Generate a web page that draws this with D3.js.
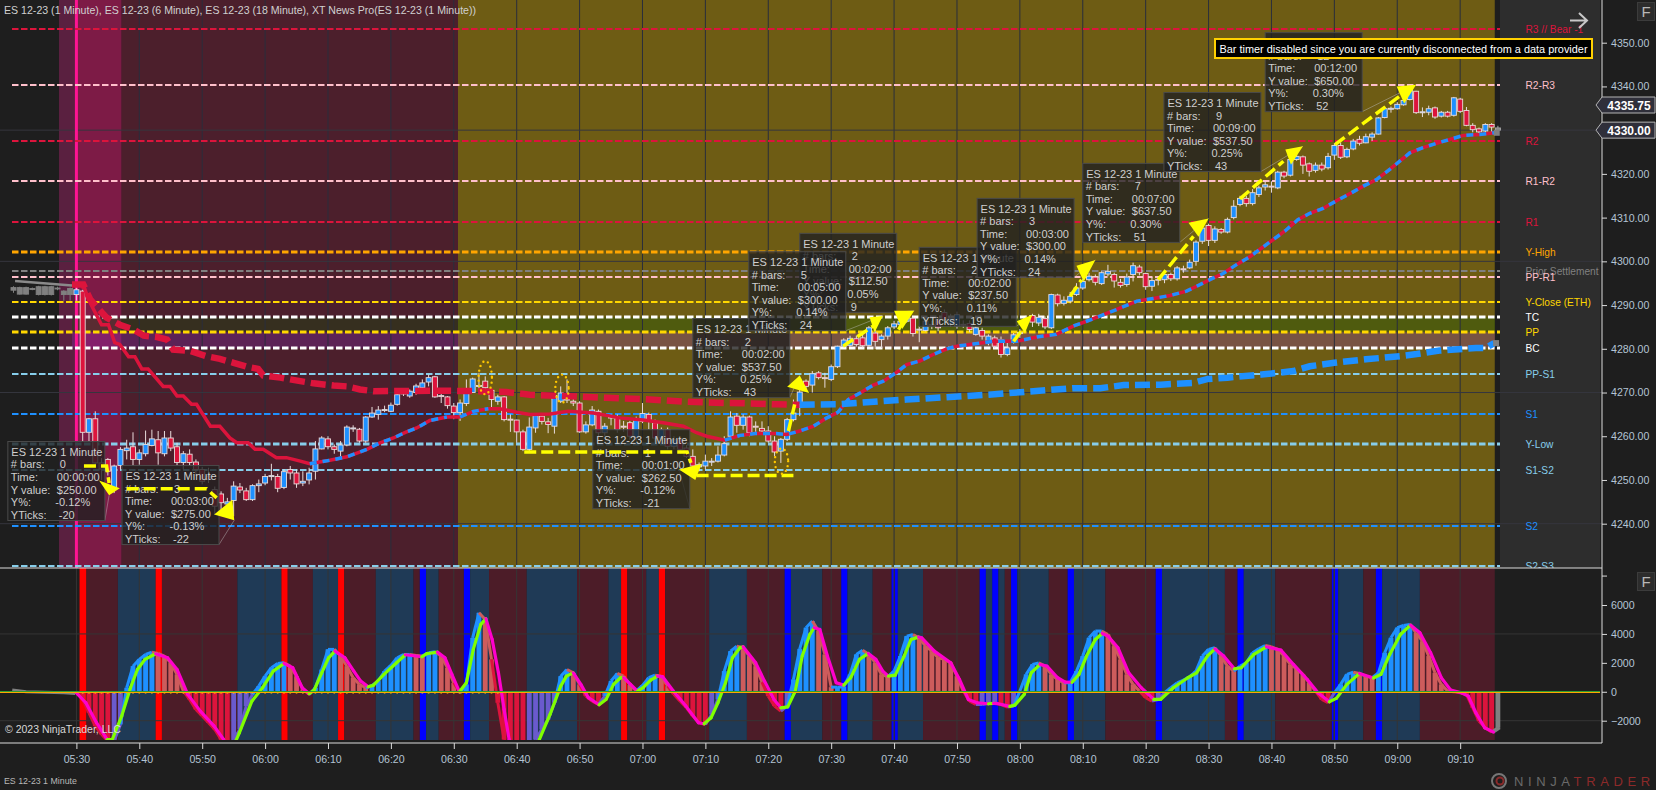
<!DOCTYPE html>
<html>
<head>
<meta charset="utf-8">
<script src="https://cdn.jsdelivr.net/npm/d3@7"></script>
<style>
  html, body { margin: 0; padding: 0; background: #1e1e1e; overflow: hidden; }
  svg { display: block; font-family: "Liberation Sans", Arial, sans-serif; }
</style>
</head>
<body>
<div id="chart"></div>
<script>
// ---- data ----

// minutes after 05:30 for the time axis
var timeTicks = [0,10,20,30,40,50,60,70,80,90,100,110,120,130,140,150,160,170,180,190,200,210,220];
var timeLabels = ["05:30","05:40","05:50","06:00","06:10","06:20","06:30","06:40","06:50","07:00","07:10","07:20","07:30","07:40","07:50","08:00","08:10","08:20","08:30","08:40","08:50","09:00","09:10"];
var priceTicks = [4240,4250,4260,4270,4280,4290,4300,4310,4320,4330,4340,4350];
var priceGrid = [4240,4270,4300,4330];
var oscTicks = [-2000,0,2000,4000,6000];
var oscGrid = [-2000,4000];

// level name, price, colour, thick?
var levelNames = ["R3 // Bear -1","R2-R3","R2","R1-R2","R1","Y-High","Prior Settlement","PP-R1","Y-Close (ETH)","TC","PP","BC","PP-S1","S1","Y-Low","S1-S2","S2","S2-S3"];
var levelPrices = [4353.13,4340.33,4327.6,4318.44,4309,4302.07,4297.86,4296.5,4290.7,4287.2,4283.8,4280.1,4274.25,4265.1,4258.2,4252.25,4239.5,4230.3];
var levelColors = ["#dc143c","#ffc0cb","#dc143c","#ffc0cb","#dc143c","#ffa500","#808080","#ffc0cb","#ffd700","#ffffff","#ffd700","#ffffff","#87ceeb","#1e90ff","#87ceeb","#87ceeb","#1e90ff","#87ceeb"];
var levelThick = [0,0,0,0,0,1,0,0,0,1,1,1,0,0,1,0,0,0];

// gray bars before the session, minutes -10..-1: open, high, low, close
var preRows = [[4293.4,4294.3,4292.8,4294],[4292.5,4294.2,4292.4,4294],[4292.5,4294.2,4292.4,4294],[4293.7,4294,4293.4,4293.8],[4292.4,4294.4,4292.2,4294.2],[4292.4,4294.4,4292.2,4294.2],[4292.4,4294.4,4292.2,4294.2],[4293.8,4294.2,4293.4,4293.9],[4292.4,4293.4,4291,4293.2],[4292.4,4294,4291,4293.8]];

// one minute bars from 05:30: open, high, low, close
var candleRows = [
[4292.4,4294,4291,4293.5],[4293.2,4293.5,4258.9,4260.9],[4260.9,4264.2,4258.9,4264],[4264,4265.7,4253,4253.9],[4253.9,4255,4250,4252.5],[4254.7,4255,4251,4252],[4247.8,4253.5,4247,4253.2],[4253.3,4257.5,4252.4,4257],[4256.7,4259.2,4254.7,4257.3],[4257.6,4260.9,4253.2,4254.7],
[4254.7,4257,4253.5,4256.2],[4256,4261.3,4255.4,4258.1],[4257.9,4261.5,4257.7,4259.4],[4259.2,4261.2,4253.5,4256.2],[4256,4261.2,4255.4,4259.6],[4259.6,4261.2,4256.6,4257.3],[4257.6,4258.5,4253.2,4254],[4254,4256.6,4252.4,4256],[4255.9,4257,4253.2,4254],[4254.1,4254.7,4250.9,4252.4],
[4252.4,4253,4249,4249.7],[4250.9,4252.8,4249.3,4250.1],[4247.8,4248.5,4242,4244],[4246.8,4247.4,4242.5,4244.8],[4244.5,4245.9,4242.5,4245],[4245.3,4249.7,4241.7,4248.6],[4248.4,4249.3,4247,4247.7],[4247.5,4248.2,4245.2,4245.5],[4245.5,4249,4245.2,4248.7],[4248.7,4250.1,4247.2,4249.1],
[4249.3,4251.4,4248.8,4250.8],[4250.9,4253.7,4249.9,4251],[4250.8,4251.4,4247.2,4248.1],[4248.3,4252.5,4247.9,4251.9],[4252.4,4253.2,4250.1,4251.6],[4251.6,4252.4,4248.2,4249.1],[4249.3,4252,4248.6,4249.7],[4250,4252.8,4249,4251.6],[4252,4258.9,4250.1,4257.1],[4257.1,4260,4257,4259.6],
[4259.4,4260,4257,4257.6],[4257.6,4258.1,4256,4257],[4256.6,4258.9,4254.7,4258],[4258,4262.5,4257.7,4262.1],[4261.8,4262.5,4261,4261.9],[4261.6,4261.9,4258.5,4258.9],[4258.9,4264.6,4258.5,4264.4],[4264.4,4266.7,4264.2,4265.3],[4265,4266.9,4263.8,4266],[4266,4267,4265.5,4266.1],
[4265.7,4267.7,4265.5,4267.1],[4267.3,4269.8,4267,4269.5],[4269.7,4270.7,4269.2,4269.9],[4269.2,4270.7,4268.8,4270.3],[4270,4272,4269.5,4271.5],[4271.1,4273,4270.3,4272.2],[4272.4,4274.1,4271.4,4273.4],[4273.6,4273.8,4268.8,4269],[4269.3,4270.3,4267.6,4269.2],[4269,4269.2,4266.3,4267],
[4266.9,4267.6,4263.9,4265.4],[4265.4,4268.4,4263.5,4267.6],[4267.5,4273,4266.9,4270],[4270,4273.4,4269.9,4273.1],[4271.5,4274.5,4270.7,4271.6],[4272.6,4273.7,4270.7,4271.1],[4270.5,4270.7,4266.5,4268.4],[4268,4269.5,4267.2,4269],[4269,4269.2,4263.4,4263.8],[4263.9,4265,4261,4263.8],
[4263.7,4263.8,4258.5,4261],[4261,4261.5,4256.6,4257],[4257,4264.3,4256.6,4262.1],[4261.9,4265.3,4260.8,4264.7],[4264.6,4265,4262.7,4263.4],[4263.3,4264.2,4260.7,4262.7],[4262.3,4269.9,4260.6,4269.3],[4268,4271.4,4267.6,4269.9],[4268.4,4273,4267.6,4268.5],[4268,4269.2,4266.9,4267.6],
[4267.6,4268,4260.8,4261],[4261,4263.4,4260.6,4262.6],[4262.6,4266.9,4262.3,4266],[4265.7,4266.1,4260,4260.8],[4260.8,4263,4260,4262.3],[4264.4,4265,4262.5,4264.2],[4264.2,4265,4260.8,4261.5],[4262.3,4263.5,4261,4262.2],[4263.1,4263.5,4259.2,4260],[4259.6,4264.5,4259,4263.8],
[4263.4,4267.6,4263,4265.2],[4265,4265.4,4261.5,4263.4],[4263.1,4263.8,4258.6,4259.6],[4259.6,4262,4259,4261.5],[4261.5,4262,4257,4257.7],[4257.7,4260,4257,4259.2],[4259.2,4259.5,4256,4257],[4257.3,4258,4255,4255.4],[4255.4,4257,4252.4,4253.2],[4253,4254,4252,4253.5],
[4253.2,4255.8,4252.4,4254.3],[4254.3,4255,4253.2,4254.3],[4254.3,4257.7,4254,4255.7],[4255.7,4260,4255.4,4258.3],[4260,4265.7,4259.2,4264.4],[4264.6,4265.3,4260.8,4262.5],[4262.5,4265,4261.5,4264.4],[4264.4,4264.7,4260,4260.8],[4262.3,4263.4,4260.8,4262.2],[4261.8,4263.4,4260.8,4261.2],
[4261.2,4262.3,4258.5,4258.9],[4258.9,4260,4255.4,4256.4],[4256.6,4259.6,4253.9,4259.3],[4259.3,4264.2,4258.9,4263.8],[4263.8,4268.4,4263.4,4265.3],[4267.3,4270.7,4264.6,4270.1],[4272.6,4273,4270.5,4271.4],[4271.7,4274.9,4270,4274.3],[4274.5,4274.9,4273,4273.4],[4273.4,4274.5,4271.1,4273.3],
[4273,4276.4,4272.6,4275.9],[4275.9,4280.7,4275.6,4280.6],[4280.6,4282.4,4280.3,4282],[4280.8,4283,4280.5,4282.4],[4282.3,4283,4280.5,4281],[4282.5,4283.6,4280.3,4280.7],[4280.8,4285.2,4280.5,4284.8],[4283.6,4284.5,4279.9,4281.7],[4282.1,4283.3,4280.2,4282.9],[4282.9,4285.2,4282.1,4284.8],
[4285,4286.4,4284.5,4285.7],[4285.5,4286.8,4285.1,4286.3],[4286.3,4287.6,4286,4287],[4287,4287.4,4282.8,4283.5],[4284.4,4285.2,4281.5,4284.5],[4284.2,4287,4284,4286.3],[4285.6,4286.4,4284.5,4285.5],[4286.7,4287.2,4284,4284.8],[4288.3,4289,4286,4286.7],[4285.6,4288,4285,4287],
[4285.2,4288.5,4284.6,4287.8],[4285.6,4286.5,4284.8,4285.5],[4285.8,4286.5,4283.8,4284.4],[4283.3,4285.2,4283,4284.8],[4284.2,4284.8,4282.1,4282.9],[4281.7,4283.3,4280.8,4282.9],[4282.5,4283,4280.1,4280.6],[4282.1,4282.8,4278,4278.7],[4278.7,4282,4278.3,4280.2],[4281.7,4283.6,4281.2,4283.2],
[4283.6,4284.5,4282.5,4283.7],[4286.5,4287.6,4285,4287],[4287.6,4288,4285,4286.1],[4285.9,4288,4285.2,4287.2],[4286.9,4287.4,4284.5,4285],[4284.8,4292.6,4284.5,4292.4],[4292.3,4292.6,4289.7,4290.3],[4290.4,4292,4289.9,4291.1],[4290.9,4293,4290.4,4292],[4292.4,4295,4292.1,4293.9],
[4293.9,4296,4293.5,4295.4],[4295.8,4297.4,4295.4,4296.6],[4296.4,4297,4294.5,4295.2],[4294.9,4297.7,4294.6,4297.4],[4297.1,4299.2,4296.6,4297.7],[4297,4297.4,4294,4295.5],[4295.2,4296,4294,4294.5],[4294.7,4297.2,4294.2,4296.4],[4297,4299.7,4295.4,4299],[4298.7,4299.2,4296.8,4297.4],
[4297.2,4297.4,4293.5,4294.2],[4294.3,4296.4,4293.2,4295.6],[4295.9,4296.6,4294.5,4295.8],[4295.8,4297.6,4295,4297],[4297,4297.4,4295.5,4296],[4296,4298.9,4295.6,4298.5],[4298.3,4299,4297.4,4298.2],[4298.5,4300.4,4298.3,4299.8],[4300,4304.8,4299,4304.4],[4304.6,4308,4304,4307.6],
[4308.2,4308.6,4303.5,4304.8],[4304.8,4308,4304.2,4307.4],[4307.3,4307.6,4306.3,4306.7],[4306.7,4310,4306.4,4309.6],[4310,4314,4309.6,4312.6],[4313,4315,4312.6,4314.4],[4314.4,4315,4312.5,4313.2],[4313.2,4316.5,4312.8,4315.7],[4315.3,4317.3,4314.7,4316.8],[4317,4318.3,4316.2,4317.5],
[4317.2,4318.3,4315.7,4317.1],[4316.8,4320.7,4316.5,4320.4],[4320.4,4320.7,4319,4319.5],[4319.7,4323.6,4319.4,4323.3],[4323.3,4324.6,4323,4324],[4323.9,4324.2,4320,4322],[4322.3,4322.6,4319.4,4320.6],[4320.8,4322.6,4320.3,4322],[4322,4322.6,4320.6,4321.1],[4321.4,4324.8,4321,4324],
[4324.3,4327,4323.2,4326.5],[4326.5,4327.2,4323.4,4323.8],[4323.9,4326,4323.6,4325.6],[4325.7,4328,4325.4,4327.5],[4327.9,4328.7,4326.5,4327],[4327.1,4329.2,4327,4328.5],[4328.4,4329.5,4327.5,4329.1],[4329.1,4333,4329,4332.8],[4332.9,4335.4,4332.7,4334.9],[4334.9,4335.4,4334,4335],
[4334.9,4336.4,4334.7,4335.9],[4335.8,4337.4,4335.6,4336.8],[4337,4339.7,4336.8,4339.3],[4338.9,4339,4333.7,4334],[4334.1,4335.2,4333,4334.2],[4334.1,4335.6,4333.4,4334.9],[4335.1,4335.4,4332.6,4333],[4333.2,4334.4,4332.9,4334.1],[4334.1,4334.4,4332.9,4333.2],[4333.4,4337.6,4333.1,4337.4],
[4337.1,4337.4,4333.9,4334.3],[4334.5,4335.3,4330.9,4331.1],[4331.1,4331.6,4329.5,4330.1],[4330.3,4330.6,4329.2,4329.6],[4329.8,4331.6,4329.5,4331.3],[4331.3,4331.6,4329.5,4330.7],[4330.5,4331,4329.4,4330]
];

// thin moving average: minute, price
var thinLine = [[-0.7,4294.7],[1.1,4294.7],[1.9,4291.3],[4,4285.5],[5.1,4285.5],[6.1,4281.4],[6.9,4281],[8.3,4278.2],[9.3,4278.2],[10.4,4275.4],[11.4,4275.4],[13.8,4271.4],[14.9,4271.4],[16,4269.2],[17,4269.2],[18.3,4267.3],[19.1,4267.3],[21.3,4262.3],[22.8,4262.3],[24.4,4259.6],[25.5,4258.5],[27.3,4258.5],[28.4,4257],[29.7,4257],[31.8,4255.1],[33.4,4255.1],[35.6,4254.3],[37.1,4253.7],[40.3,4254.5],[43,4255.3],[46.2,4257],[48.3,4258.5],[50.4,4259.6],[52.3,4260.9],[54.1,4261.9],[56.2,4263.6],[58.9,4264.4],[61,4264.4],[63.1,4265.7],[65.5,4266.3],[67.3,4266.3],[70,4265.5],[72.1,4265],[75.3,4265.1],[78.2,4265.7],[82.2,4265.3],[86.4,4264.2],[90.1,4263.7],[93.3,4263.1],[96.5,4262.3],[98.6,4260.8],[100.2,4260],[103.1,4259.1],[105.5,4260.2],[107.9,4260.6],[111.3,4260.6],[112.9,4260.4],[115,4261.2],[117.2,4262.3],[119.3,4264.2],[121.1,4265.5],[122.7,4268.4],[124.6,4269.9],[126.7,4271.7],[128.3,4272.6],[130.4,4274.6],[132,4276.4],[134.1,4277.2],[136.2,4278.7],[138.4,4280],[140,4280.6],[142.6,4281.1],[145.8,4281.7],[149.5,4281.7],[152.7,4282.7],[155.8,4283.3],[158.5,4285.2],[160.6,4286.3],[163.3,4287.8],[165.4,4289],[168.6,4290.9],[171.2,4291.5],[173.9,4292.2],[176.5,4293.2],[178.1,4294.3],[180.2,4295.8],[182.3,4297.2],[184.5,4299.3],[186.6,4301.1],[188.5,4303.1],[190.3,4305],[192.2,4307],[194.2,4309.5],[196.1,4311],[198.2,4312.1],[200.4,4313.9],[202.5,4315.5],[204.6,4317.2],[206.7,4318.7],[208.6,4320.8],[210.4,4322.9],[212,4324.8],[214.1,4326],[216.5,4327.1],[218.4,4327.9],[220.5,4328.8],[223.1,4329],[225.5,4329.4]];
var thinBlueSpans = [[37,60],[61,66],[76,78.5],[103,225.5]];

// thick dashed moving average: minute, price
var thickLine = [[-0.7,4294.7],[1.1,4294.7],[2.2,4291.3],[4.8,4287.1],[6.9,4285.5],[9.1,4284.4],[10.7,4283],[12.8,4282.7],[14.4,4282.1],[15.4,4279.8],[18.1,4279.5],[20.7,4278.3],[22.8,4277.7],[25,4276.8],[27.1,4275.9],[28.9,4275.4],[29.7,4273.9],[32.4,4273.4],[35.6,4272.6],[37.7,4272.1],[40.9,4271.6],[43,4271.4],[45.1,4270.7],[47.2,4270.3],[58.9,4270.4],[64.2,4270.3],[68.4,4270.1],[72.1,4269.5],[77.4,4269.2],[84.3,4268.8],[91.2,4268.4],[96.5,4267.9],[102.9,4267.6],[107.1,4267.5],[111.3,4267.3],[115,4267.2],[121,4267.3],[127.9,4268],[132,4268.4],[145,4269.5],[158.5,4271],[162.8,4271],[166.5,4271.7],[172.4,4271.8],[177.6,4272.2],[179.9,4273.1],[183,4273.4],[188.4,4274.1],[193.5,4274.9],[196.1,4276],[200,4276.8],[205,4277.6],[210.4,4278.3],[213.1,4278.8],[216.7,4279.6],[222.5,4280.2],[224.1,4280.2],[225.4,4281.3]];
var thickTurnMinute = 115;

// background tints of the price pane: from minute, to minute, colour
var priceZones = [[-2.77,-0.2,"#5a2040"],[-0.2,7.2,"#7d1b46"],[7.2,60.67,"#4c1f2c"],[60.67,225.5,"#6e5c14"]];

// measure tool: box corner and text, line and arrow head as minute/price
var boxCorners = [[-10.9,4258.8],[7.25,4253.3],[82.1,4261.5],[98,4286.9],[115,4306.4],[106.9,4302.2],[134,4303.2],[143.2,4314.4],[160,4322.4],[172.9,4338.6],[189,4352.3]];
var boxBars = ["0","3","1","2","2","5","2","3","7","9","12"];
var boxTimes = ["00:00:00","00:03:00","00:01:00","00:02:00","00:02:00","00:05:00","00:02:00","00:03:00","00:07:00","00:09:00","00:12:00"];
var boxValues = ["$250.00","$275.00","$262.50","$537.50","$112.50","$300.00","$237.50","$300.00","$637.50","$537.50","$650.00"];
var boxPercents = ["-0.12%","-0.13%","-0.12%","0.25%","0.05%","0.14%","0.11%","0.14%","0.30%","0.25%","0.30%"];
var boxTicks = ["-20","-22","-21","43","9","24","19","24","51","43","52"];
var arrowLines = [
  [[1.2,4253.2],[4.8,4253.2],[5.2,4249.3]],
  [[8,4248],[20.7,4248],[22.3,4245.9]],
  [[71.2,4256.4],[97.1,4256.4],[97.7,4253.9]],
  [[113.2,4261.2],[114.2,4267.3]],
  [[130.7,4284.4],[131.5,4286.3]],
  [[121.9,4280.6],[126.7,4285.2]],
  [[149,4281.7],[150.6,4284.8]],
  [[158,4292],[159.8,4295.8]],
  [[172,4295.8],[177.6,4305.7]],
  [[185,4314.3],[191.9,4322.9]],
  [[200.1,4326.7],[210.4,4337.8]]
];
var arrowHeads = [
  [[5.2,4246.5],[3.6,4249.9],[6.9,4248.1]],
  [[25.1,4240.8],[21.9,4242.1],[24.8,4245.5]],
  [[95.8,4252.4],[99.4,4253.7],[98.4,4250]],
  [[115,4273.9],[113,4271.3],[116.5,4269.9]],
  [[133.2,4288.7],[130,4288.7],[131.3,4284.5]],
  [[128.2,4287.5],[126.1,4287.2],[126.9,4283.7]],
  [[152,4287.8],[149.5,4286.3],[150.8,4283.6]],
  [[162,4300.3],[159,4299],[160.15,4295.35]],
  [[180,4309.8],[176.8,4308.8],[178.4,4305.6]],
  [[195,4326.3],[192.2,4325.6],[193.1,4322.1]],
  [[213,4340.4],[209.9,4340],[211.1,4336.1]]
];
var extraDash = [[98.6,4251],[114,4251]];
// dotted ovals: minute, price, minute radius, price radius
var ovals = [[65,4273.4,1.06,3.8],[77.2,4270.9,1.06,3.2],[112.1,4254.3,1.06,2.9]];

var priceTags = [4335.75,4330.00];

// lower pane background: kind, from minute, to minute
var oscZones = [["df",0.5,1.6],["d",1.6,6.6],["u",6.6,12.6],["df",12.6,13.6],["d",13.6,25.6],["u",25.6,32.6],["df",32.6,33.6],["d",33.6,37.6],["u",37.6,41.6],["df",41.6,42.6],["d",42.6,47.6],["u",47.6,53.6],["d",53.6,54.6],["uf",54.6,55.6],["u",55.6,57.6],["d",57.6,61.6],["uf",61.6,62.6],["u",62.6,65.6],["d",65.6,71.6],["u",71.6,79.6],["d",79.6,84.6],["u",84.6,86.6],["df",86.6,87.6],["d",87.6,90.6],["u",90.6,92.6],["df",92.6,93.6],["d",93.6,100.6],["u",100.6,106.6],["d",106.6,112.6],["uf",112.6,113.6],["u",113.6,118.6],["d",118.6,121.6],["uf",121.6,122.6],["u",122.6,126.6],["d",126.6,129.6],["uf",129.6,130.05],["uf",130.15,130.6],["u",130.6,134.6],["d",134.6,143.6],["uf",143.6,144.6],["u",144.6,145.6],["uf",145.6,146.6],["u",146.6,147.6],["d",147.6,148.6],["uf",148.6,149.6],["u",149.6,154.6],["d",154.6,157.6],["uf",157.6,158.6],["u",158.6,163.6],["d",163.6,171.6],["uf",171.6,172.6],["u",172.6,182.6],["d",182.6,184.6],["uf",184.6,185.6],["u",185.6,190.6],["d",190.6,199.6],["uf",199.6,199.9],["u",199.9,200.1],["uf",200.1,200.6],["u",200.6,204.6],["d",204.6,206.6],["uf",206.6,207.6],["u",207.6,213.6],["d",213.6,225.5]];

// histogram, one value a minute from 05:30
var histValues = [0,-530,-1450,-2370,-2950,-3400,-3400,-2260,280,1770,2240,2580,2740,2650,2470,2010,1200,50,-530,-1220,-1680,-2140,-2600,-3300,-3700,-3300,-2600,-990,-180,390,1080,1660,1960,2000,1770,1080,160,-180,280,1540,2930,2930,2470,1770,970,510,280,440,740,1430,1820,2350,2580,2580,2510,2470,2700,2770,2470,1660,620,-70,510,3730,5460,5000,2240,-760,-3300,-3800,-4200,-4500,-4500,-3300,-2600,-1910,-760,1080,1540,1310,510,-300,-650,-880,-300,740,1270,1080,510,50,440,970,1150,1080,390,-180,-650,-1110,-1680,-2140,-2260,-1570,-530,1430,2810,3160,3040,2470,1770,670,-300,-990,-1340,-990,850,2970,4430,4890,4200,2580,320,320,350,1200,2580,2880,2580,2010,1200,1040,1430,2470,3850,3960,3730,3160,2810,2350,2240,2010,1080,50,-650,-880,-880,-810,-810,-880,-1060,-990,50,1200,1890,2000,1770,1200,850,620,620,1430,2470,3730,4200,4200,3960,3160,2240,1200,510,50,-410,-650,-530,-70,280,620,810,1040,1430,2470,2930,3040,2470,1770,1430,1770,2010,2700,2970,3200,3110,2930,2470,1890,1590,1200,620,50,-530,-760,-70,510,1200,1360,1270,1080,970,1310,2700,3730,4430,4590,4660,4080,3500,2470,1310,510,50,0,-70,-180,-1110,-2030,-2490,-2790,-2490];

// smoothed line in the lower pane: minute, value
var signalLine = [[0,-70],[1.5,-760],[3.2,-2140],[4.9,-3300],[5.7,-3300],[7.2,-1680],[8.6,280],[9.7,1540],[10.9,2240],[12.6,2630],[14.5,2350],[16,1540],[17.7,-180],[19.7,-1340],[21.9,-2370],[23.4,-3300],[24.2,-4700],[25,-3750],[25.9,-2840],[27.9,-650],[29.6,280],[31.3,1430],[33,1960],[34.4,1660],[35.9,280],[37,-140],[37.8,115],[39,1310],[40.1,2350],[41.1,2810],[42.7,2350],[44.1,1430],[45.2,740],[46.4,345],[47.2,440],[48.9,1200],[50.9,2010],[52.3,2560],[54.9,2420],[55.7,2630],[57.4,2740],[58.6,2350],[59.7,1200],[60.9,0],[62,620],[63.1,2930],[64.3,4660],[65.1,5050],[66.1,3620],[67.1,1310],[68,-1220],[68.8,-3300],[69.7,-5100],[72.8,-5100],[73.6,-3300],[75.3,-1570],[77,390],[77.9,1080],[79,1310],[80.2,510],[81.4,-410],[83.1,-900],[84.2,-530],[85.4,510],[86.5,970],[87,980],[88.1,510],[89.2,50],[90.1,280],[91.3,810],[92.4,1080],[93.2,1040],[94.9,50],[96.9,-990],[98.9,-2140],[99.8,-2210],[100.9,-1800],[102,-760],[103.2,620],[104.3,2350],[105.5,3040],[106,3110],[108,2000],[109.4,740],[110.9,-530],[112,-1110],[113.1,-1040],[114.3,50],[115.4,2470],[116.6,3960],[117.3,4430],[118.2,4310],[119.4,2470],[120.8,620],[122,460],[123.1,970],[124.5,2240],[125.9,2650],[127.1,2240],[128.2,1430],[129.1,1080],[130.2,1150],[131.6,2470],[132.7,3620],[133.9,3780],[134.4,3730],[136.4,2810],[139,2010],[140.4,850],[141.8,-530],[143.2,-760],[145,-830],[145.8,-800],[146.4,-810],[148.4,-1010],[149.2,-920],[150.7,-180],[151.8,1310],[153.2,1890],[154.3,1770],[156,970],[157.2,670],[158.3,660],[159.4,1200],[160.6,2470],[162,3620],[163.1,4030],[164,3850],[165.6,3040],[167.3,1310],[169.3,280],[171.3,-530],[172.4,-520],[174.4,280],[176.7,970],[178.1,1310],[179.8,2470],[181,2970],[182.4,2470],[184.1,1590],[185.2,1660],[187.2,2580],[189.2,3110],[191.5,2880],[193.5,1890],[195.7,850],[197.4,-70],[199.2,-690],[200.3,-460],[202,510],[204,1270],[206.2,950],[207.4,1200],[208.8,2580],[210.5,3960],[212.1,4610],[213.6,4080],[215.3,2700],[217,970],[218.5,115],[220.2,-70],[221.3,-300],[222.5,-1450],[223.9,-2490],[225.3,-2790]];
var preSignal = [[-10.2,115],[-8,0],[-5,-40],[-2,-60],[-0.2,-120]];
var lastSignal = [[225.3,-2790],[226.3,-2490]];

// ---- layout ----
var svgWidth = 1656;
var svgHeight = 790;
var axisX = 1602;
var plotRight = 1495;
var columnLeft = 1500;
var sepY = 568;
var oscBottom = 740;
var timeAxisY = 743;

var svg = d3.select("#chart").append("svg")
  .attr("width", svgWidth)
  .attr("height", svgHeight);

svg.append("rect").attr("width", svgWidth).attr("height", svgHeight).attr("fill", "#1e1e1e");

var x = d3.scaleLinear().domain([0, 226]).range([76.4, 1497.9]);
var y = d3.scaleLinear().domain([4240, 4350]).range([523.7, 42.7]);
var yOsc = d3.scaleLinear().domain([-2000, 6000]).range([720.7, 605]);

svg.append("clipPath").attr("id", "priceClip").append("rect")
  .attr("x", 0).attr("y", 0).attr("width", axisX).attr("height", sepY);
svg.append("clipPath").attr("id", "oscClip").append("rect")
  .attr("x", 0).attr("y", sepY).attr("width", axisX).attr("height", oscBottom - sepY);

var pane = svg.append("g").attr("clip-path", "url(#priceClip)");

// label column right of the bars
pane.append("rect")
  .attr("x", columnLeft).attr("y", 0)
  .attr("width", axisX - columnLeft - 2).attr("height", sepY)
  .attr("fill", "#2d2d2d");

// session tints
pane.selectAll(".zone").data(priceZones).enter().append("rect")
  .attr("x", d => x(d[0]))
  .attr("y", 0)
  .attr("width", d => x(d[1]) - x(d[0]))
  .attr("height", sepY)
  .attr("fill", d => d[2]);

// pivot bands
pane.append("rect")
  .attr("x", x(-0.7)).attr("width", plotRight - x(-0.7))
  .attr("y", y(levelPrices[9])).attr("height", y(levelPrices[10]) - y(levelPrices[9]))
  .attr("fill", "rgba(0,90,0,0.28)");
pane.append("rect")
  .attr("x", x(-0.7)).attr("width", plotRight - x(-0.7))
  .attr("y", y(levelPrices[10])).attr("height", y(levelPrices[11]) - y(levelPrices[10]))
  .attr("fill", "rgba(160,50,255,0.2)");

// grid
pane.selectAll(".vgrid").data(timeTicks).enter().append("line")
  .attr("x1", d => x(d)).attr("x2", d => x(d))
  .attr("y1", 0).attr("y2", sepY)
  .attr("stroke", "#2a2e3c").attr("stroke-width", 1);
pane.selectAll(".hgrid").data(priceGrid).enter().append("line")
  .attr("x1", 0).attr("x2", axisX)
  .attr("y1", d => y(d)).attr("y2", d => y(d))
  .attr("stroke", "#35363e").attr("stroke-width", 1);

// pink session line
pane.append("line")
  .attr("x1", x(0)).attr("x2", x(0)).attr("y1", 0).attr("y2", sepY)
  .attr("stroke", "#ff1493").attr("stroke-width", 3);

// pivot levels
pane.selectAll(".level").data(levelPrices).enter().append("line")
  .attr("x1", 12).attr("x2", columnLeft)
  .attr("y1", d => Math.round(y(d))).attr("y2", d => Math.round(y(d)))
  .attr("stroke", (d, i) => levelColors[i])
  .attr("stroke-width", (d, i) => levelThick[i] ? 3 : 2)
  .attr("stroke-dasharray", "6.5 2.5");
pane.selectAll(".levelText").data(levelNames).enter().append("text")
  .attr("x", 1525.5)
  .attr("y", (d, i) => y(levelPrices[i]) + 4)
  .attr("font-size", 10.2)
  .attr("fill", (d, i) => levelColors[i])
  .text(d => d);

// thin gray line before the open
pane.append("line")
  .attr("x1", x(-9.75)).attr("x2", x(-0.7))
  .attr("y1", y(4295.5)).attr("y2", y(4294.5))
  .attr("stroke", "#8a8a8a").attr("stroke-width", 2.5);

// candles
function drawCandles(rows, first, upColor, downColor, edge) {
  var g = pane.append("g");
  var bar = g.selectAll("g").data(rows).enter().append("g");
  bar.append("line")
    .attr("x1", (d, i) => x(first + i)).attr("x2", (d, i) => x(first + i))
    .attr("y1", d => y(d[1])).attr("y2", d => y(d[2]))
    .attr("stroke", edge).attr("stroke-width", 1);
  bar.append("rect")
    .attr("x", (d, i) => x(first + i) - 2.5)
    .attr("width", 5)
    .attr("y", d => y(Math.max(d[0], d[3])))
    .attr("height", d => Math.max(1, Math.abs(y(d[0]) - y(d[3]))))
    .attr("fill", d => d[3] >= d[0] ? upColor : downColor)
    .attr("stroke", edge).attr("stroke-width", 0.9);
}
drawCandles(preRows, -10, "#808080", "#808080", "#808080");
drawCandles(candleRows.slice(0, 226), 0, "#1e90ff", "#dc143c", "#e8dcdc");
drawCandles(candleRows.slice(226), 226, "#808080", "#808080", "#aaaaaa");

// moving averages
var priceLine = d3.line().x(d => x(d[0])).y(d => y(d[1]));

pane.append("path").attr("d", priceLine(thinLine))
  .attr("fill", "none").attr("stroke", "#dc143c").attr("stroke-width", 3.5);
thinBlueSpans.forEach(function (span) {
  pane.append("path")
    .attr("d", priceLine(thinLine.filter(d => d[0] >= span[0] && d[0] <= span[1])))
    .attr("fill", "none").attr("stroke", "#1e90ff").attr("stroke-width", 3.5)
    .attr("stroke-dasharray", "7 6");
});
pane.append("path").attr("d", priceLine(thickLine.filter(d => d[0] <= thickTurnMinute)))
  .attr("fill", "none").attr("stroke", "#dc143c").attr("stroke-width", 6.5)
  .attr("stroke-dasharray", "15 6");
pane.append("path").attr("d", priceLine(thickLine.filter(d => d[0] >= thickTurnMinute)))
  .attr("fill", "none").attr("stroke", "#1e90ff").attr("stroke-width", 6.5)
  .attr("stroke-dasharray", "15 6");

// last price stub of both averages
pane.selectAll(".stub").data([thinLine[thinLine.length - 1], thickLine[thickLine.length - 1]]).enter().append("rect")
  .attr("x", d => x(d[0]) - 1)
  .attr("y", d => y(d[1]) - 3)
  .attr("width", 6).attr("height", 6)
  .attr("fill", "#808080");

// measure boxes
var rowNames = ["# bars:", "Time:", "Y value:", "Y%:", "YTicks:"];
var rowX = [52, 49, 49, 47.5, 51];
boxCorners.forEach(function (c, i) {
  var bx = x(c[0]), by = y(c[1]);
  var tip = arrowHeads[i][0];
  pane.append("line")
    .attr("x1", bx + 97).attr("y1", by + 79)
    .attr("x2", x(tip[0])).attr("y2", y(tip[1]))
    .attr("stroke", "rgba(190,190,190,0.45)");
  var box = pane.append("g").attr("transform", `translate(${bx}, ${by})`);
  box.append("rect")
    .attr("width", 97).attr("height", 79)
    .attr("fill", "rgba(33,33,33,0.8)")
    .attr("stroke", "#4a4a4a").attr("stroke-width", 1);
  box.append("text").attr("x", 3.5).attr("y", 14.5)
    .attr("font-size", 11).attr("fill", "#cfcfcf").text("ES 12-23 1 Minute");
  var vals = [boxBars[i], boxTimes[i], boxValues[i], boxPercents[i], boxTicks[i]];
  rowNames.forEach(function (name, r) {
    box.append("text").attr("x", 3).attr("y", 27 + r * 12.55)
      .attr("font-size", 11).attr("fill", "#cfcfcf").text(name);
    box.append("text").attr("x", rowX[r]).attr("y", 27 + r * 12.55)
      .attr("font-size", 11).attr("fill", "#cfcfcf").text(vals[r]);
  });
});

// yellow measure lines and arrow heads
arrowLines.forEach(function (pts, i) {
  pane.append("path").attr("d", priceLine(pts))
    .attr("fill", "none").attr("stroke", "#ffff00").attr("stroke-width", 3.5)
    .attr("stroke-dasharray", "12 5");
  pane.append("path").attr("d", priceLine(arrowHeads[i]) + "Z").attr("fill", "#ffff00");
});
pane.append("path").attr("d", priceLine(extraDash))
  .attr("fill", "none").attr("stroke", "#ffff00").attr("stroke-width", 3.5)
  .attr("stroke-dasharray", "12 5");

// dotted ovals
pane.selectAll(".oval").data(ovals).enter().append("ellipse")
  .attr("cx", d => x(d[0]))
  .attr("cy", d => y(d[1]))
  .attr("rx", d => x(d[2]) - x(0))
  .attr("ry", d => y(4240) - y(4240 + d[3]))
  .attr("fill", "none").attr("stroke", "#ffc800").attr("stroke-width", 2.4)
  .attr("stroke-linecap", "round").attr("stroke-dasharray", "0 5");

// title
svg.append("text").attr("x", 4).attr("y", 14)
  .attr("font-size", 10.6).attr("fill", "#d0d0d0")
  .text("ES 12-23 (1 Minute), ES 12-23 (6 Minute), ES 12-23 (18 Minute), XT News Pro(ES 12-23 (1 Minute))");

// disconnected notice
svg.append("rect").attr("x", 1215).attr("y", 39)
  .attr("width", 377).attr("height", 19)
  .attr("fill", "#000").attr("stroke", "#ffd000").attr("stroke-width", 2);
svg.append("text").attr("x", 1403.5).attr("y", 52.5)
  .attr("text-anchor", "middle").attr("font-size", 10.9).attr("fill", "#fff")
  .text("Bar timer disabled since you are currently disconnected from a data provider");

// arrow and F buttons
svg.append("path").attr("d", "M1570,20.5H1587M1579,13L1587,20.5L1579,28")
  .attr("fill", "none").attr("stroke", "#c8c8c8").attr("stroke-width", 2);
[2, 572].forEach(function (top) {
  svg.append("rect").attr("x", 1637.5).attr("y", top + 0.5).attr("width", 17).attr("height", 18)
    .attr("fill", "#2c2c2c").attr("stroke", "#3c3c3c");
  svg.append("text").attr("x", 1646).attr("y", top + 15)
    .attr("text-anchor", "middle").attr("font-size", 15).attr("fill", "#b8b8b8").text("F");
});

// ---- lower pane ----
var osc = svg.append("g").attr("clip-path", "url(#oscClip)");
var oscFill = { u: "#1f3a56", d: "#4c1c28", uf: "#0000ff", df: "#ff0000" };

osc.selectAll(".ozone").data(oscZones).enter().append("rect")
  .attr("x", d => x(d[1]))
  .attr("width", d => x(d[2]) - x(d[1]))
  .attr("y", sepY).attr("height", oscBottom - sepY)
  .attr("fill", d => oscFill[d[0]]);

osc.selectAll(".ovgrid").data(timeTicks).enter().append("line")
  .attr("x1", d => x(d)).attr("x2", d => x(d))
  .attr("y1", sepY).attr("y2", oscBottom)
  .attr("stroke", "#353535");
osc.selectAll(".ohgrid").data(oscGrid).enter().append("line")
  .attr("x1", 0).attr("x2", axisX)
  .attr("y1", d => yOsc(d)).attr("y2", d => yOsc(d))
  .attr("stroke", "#353535");

// histogram colour comes from the sign and the direction of each value
function histColor(v, i) {
  if (i === histValues.length - 1) return "#808080";
  var prev = i > 0 ? histValues[i - 1] : 0;
  if (v >= 0) return v >= prev ? "#1e90ff" : "#cd5c5c";
  return v < prev ? "#dc143c" : "#6a5acd";
}
osc.selectAll(".hist").data(histValues).enter().append("rect")
  .attr("x", (d, i) => x(i) - 2.4)
  .attr("width", 4.8)
  .attr("y", d => Math.min(yOsc(d), yOsc(0)))
  .attr("height", d => Math.abs(yOsc(d) - yOsc(0)))
  .attr("fill", histColor);

// outline joining the bar tops, same colours as the bars
var oscLine = d3.line().x(d => x(d[0])).y(d => yOsc(d[1]));
histValues.forEach(function (v, i) {
  if (i === 0) return;
  osc.append("path").attr("d", oscLine([[i - 1, histValues[i - 1]], [i, v]]))
    .attr("fill", "none").attr("stroke", histColor(v, i)).attr("stroke-width", 3);
});

// zero lines
svg.append("line").attr("x1", 0).attr("x2", axisX - 2)
  .attr("y1", 691.5).attr("y2", 691.5)
  .attr("stroke", "#2f9f2f");
svg.append("line").attr("x1", 0).attr("x2", axisX - 2)
  .attr("y1", 692.5).attr("y2", 692.5)
  .attr("stroke", "#ffa500");

// small gold ticks on the zero line above the falling bars
osc.selectAll(".zeroTick").data(histValues).enter().append("rect")
  .filter(d => d < 0)
  .attr("x", (d, i) => x(i) - 0.8)
  .attr("y", 691).attr("width", 1.6).attr("height", 2.5)
  .attr("fill", "#ffd800");

osc.append("path").attr("d", oscLine(preSignal))
  .attr("fill", "none").attr("stroke", "#808080").attr("stroke-width", 3);
osc.append("path").attr("d", oscLine(lastSignal))
  .attr("fill", "none").attr("stroke", "#808080").attr("stroke-width", 3);
d3.pairs(signalLine).forEach(function (seg) {
  osc.append("path").attr("d", oscLine(seg))
    .attr("fill", "none")
    .attr("stroke", seg[1][1] >= seg[0][1] ? "#7fff00" : "#ff00cc")
    .attr("stroke-width", 3.2)
    .attr("stroke-linecap", "round");
});

svg.append("text").attr("x", 5).attr("y", 733)
  .attr("font-size", 10.5).attr("fill", "#d8d8d8").text("\u00a9 2023 NinjaTrader, LLC");

// ---- axes ----
var axisColor = "#dcdcdc";
var labelColor = "#b4c4d4";

function styleAxis(g) {
  g.select(".domain").remove();
  g.selectAll("line").attr("stroke", axisColor);
  g.selectAll("text").attr("fill", labelColor).attr("font-size", 10.6)
    .attr("font-family", '"Liberation Sans", Arial, sans-serif');
}

svg.append("line").attr("x1", axisX).attr("x2", axisX).attr("y1", 0).attr("y2", timeAxisY)
  .attr("stroke", axisColor);
svg.append("line").attr("x1", 0).attr("x2", axisX).attr("y1", sepY).attr("y2", sepY)
  .attr("stroke", axisColor);
svg.append("line").attr("x1", 0).attr("x2", axisX).attr("y1", timeAxisY).attr("y2", timeAxisY)
  .attr("stroke", axisColor);

svg.append("g").attr("transform", `translate(${axisX}, 0)`)
  .call(d3.axisRight(y).tickValues(priceTicks).tickFormat(d3.format(".2f")).tickSize(5).tickPadding(4))
  .call(styleAxis);
svg.append("g").attr("transform", `translate(${axisX}, 0)`)
  .call(d3.axisRight(yOsc).tickValues(oscTicks).tickFormat(d3.format("d")).tickSize(5).tickPadding(4))
  .call(styleAxis);
// extra unlabelled tick near the top of the lower pane
svg.append("line").attr("x1", axisX).attr("x2", axisX + 5)
  .attr("y1", yOsc(8000)).attr("y2", yOsc(8000)).attr("stroke", axisColor);
svg.append("g").attr("transform", `translate(0, ${timeAxisY})`)
  .call(d3.axisBottom(x).tickValues(timeTicks).tickFormat((d, i) => timeLabels[i]).tickSize(6).tickPadding(6))
  .call(styleAxis);

// price tags
var tags = svg.selectAll(".tag").data(priceTags).enter().append("g")
  .attr("transform", d => `translate(0, ${y(d)})`);
tags.append("path")
  .attr("d", "M1596,0L1602,-8H1655V8H1602Z")
  .attr("fill", "#2f2f3a").attr("stroke", "#b4b4b4");
tags.append("text")
  .attr("x", 1629).attr("y", 4.5)
  .attr("text-anchor", "middle")
  .attr("font-size", 12).attr("font-weight", "bold").attr("fill", "#ffffff")
  .text(d => d3.format(".2f")(d));

// status line and logo
svg.append("text").attr("x", 4).attr("y", 784)
  .attr("font-size", 8.8).attr("fill", "#b8b8b8").text("ES 12-23 1 Minute");
svg.append("circle").attr("cx", 1499).attr("cy", 781).attr("r", 7)
  .attr("fill", "none").attr("stroke", "#777").attr("stroke-width", 2);
svg.append("circle").attr("cx", 1500).attr("cy", 781).attr("r", 3.5)
  .attr("fill", "none").attr("stroke", "#8a2a2a").attr("stroke-width", 2);
var logo = svg.append("text").attr("x", 1514).attr("y", 786)
  .attr("font-size", 13).attr("letter-spacing", 4.6);
logo.append("tspan").attr("fill", "#6a6a6a").text("NINJA");
logo.append("tspan").attr("fill", "#8c2a2a").text("TRADER");
</script>
</body>
</html>
